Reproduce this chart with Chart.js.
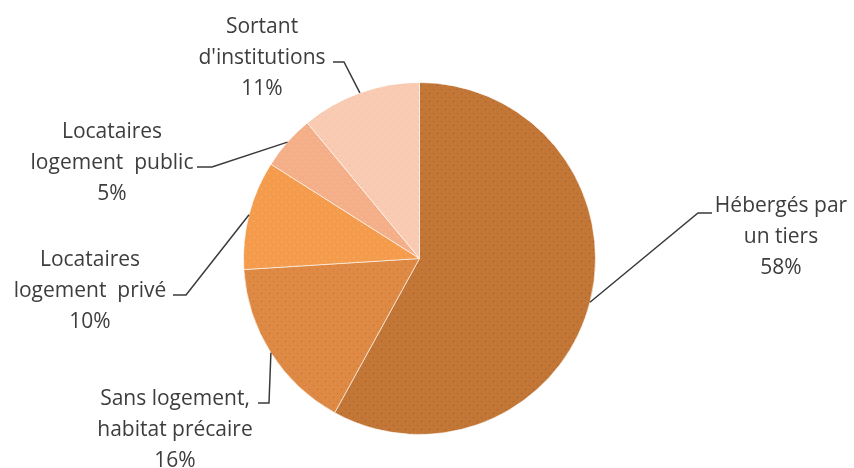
<!DOCTYPE html>
<html><head><meta charset="utf-8">
<script src="https://cdn.jsdelivr.net/npm/chart.js@4"></script>
<style>html,body{margin:0;padding:0;background:#fff}#wrap{width:854px;height:468px;position:relative}</style>
</head><body><div id="wrap"><canvas id="c"></canvas></div>
<script>
const categories = [
  ["Hébergés par", "un tiers"],
  ["Sans logement,", "habitat précaire"],
  ["Locataires", "logement  privé"],
  ["Locataires", "logement  public"],
  ["Sortant", "d'institutions"]
];
const values = [58, 16, 10, 5, 11];
const baseColors = ['#C27737', '#DE8A44', '#F49B4C', '#F4AF88', '#F8CBB2'];
const dotColors = ['#A5552F', '#C96C3A', '#F7B387', '#F7C2A6', '#F0B9AA'];

function makePattern(base, dot) {
  const c = document.createElement('canvas');
  c.width = 8; c.height = 8;
  const g = c.getContext('2d');
  g.fillStyle = base; g.fillRect(0, 0, 8, 8);
  g.fillStyle = dot;
  g.fillRect(1, 1, 1, 1);
  g.fillRect(5, 5, 1, 1);
  return g.createPattern(c, 'repeat');
}

// label layout (positions of text and leader-line elbows)
const labelLayout = [
  {tx: 781, ty: 206, pts: [[698, 213], [712, 213]]},
  {tx: 175, ty: 399, pts: [[269, 403], [258, 403]]},
  {tx: 90,  ty: 260, pts: [[186, 295], [173, 295]]},
  {tx: 112, ty: 132, pts: [[212, 167], [197, 167]]},
  {tx: 262, ty: 27,  pts: [[344, 62], [333, 62]]}
];

const labelPlugin = {
  id: 'labels',
  afterDatasetsDraw(chart) {
    const ctx = chart.ctx;
    const meta = chart.getDatasetMeta(0);
    const data = chart.data.datasets[0].data;
    const total = data.reduce((s, v) => s + v, 0);
    ctx.save();
    meta.data.forEach((el, i) => {
      const a = (el.startAngle + el.endAngle) / 2;
      const px = el.x + Math.cos(a) * el.outerRadius;
      const py = el.y + Math.sin(a) * el.outerRadius;
      const L = labelLayout[i];
      ctx.strokeStyle = '#3a3a3a';
      ctx.lineWidth = 1.5;
      ctx.beginPath();
      ctx.moveTo(px, py);
      L.pts.forEach(p => ctx.lineTo(p[0], p[1]));
      ctx.stroke();
      const lines = chart.data.labels[i].concat([Math.round(data[i] / total * 100) + '%']);
      ctx.fillStyle = '#3d3d3d';
      ctx.font = '21px "Open Sans"';
      ctx.textAlign = 'center';
      ctx.textBaseline = 'middle';
      lines.forEach((t, k) => ctx.fillText(t, L.tx, L.ty + k * 31));
    });
    ctx.restore();
  }
};

new Chart(document.getElementById('c'), {
  type: 'pie',
  data: {
    labels: categories,
    datasets: [{
      data: values,
      backgroundColor: baseColors.map((b, i) => makePattern(b, dotColors[i])),
      borderColor: 'rgba(255,255,255,0.6)',
      borderWidth: 1
    }]
  },
  options: {
    responsive: true,
    maintainAspectRatio: false,
    animation: false,
    layout: {padding: {top: 82, bottom: 33, left: 243, right: 258}},
    plugins: {legend: {display: false}, tooltip: {enabled: false}, title: {display: false}}
  },
  plugins: [labelPlugin]
});
</script>
</body></html>
